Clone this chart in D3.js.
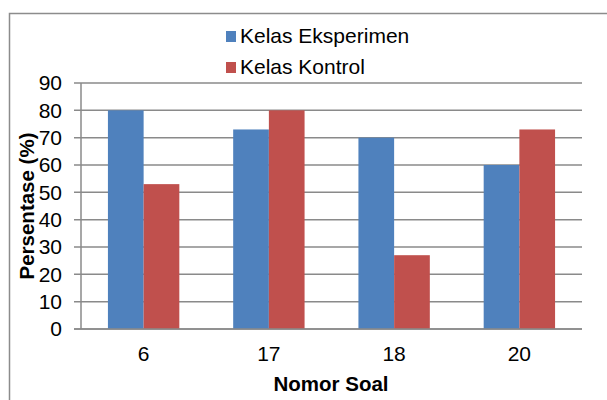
<!DOCTYPE html>
<html>
<head>
<meta charset="utf-8">
<script src="https://cdn.jsdelivr.net/npm/d3@7"></script>
<style>
  body { margin: 0; background: #fff; }
  svg { display: block; font-family: "Liberation Sans", Arial, sans-serif; }
</style>
</head>
<body>
<svg id="chart"></svg>
<script>
// Data
const categories = ["6", "17", "18", "20"];
const seriesNames = ["Kelas Eksperimen", "Kelas Kontrol"];
const eksperimen = [80, 73, 70, 60];
const kontrol = [53, 80, 27, 73];
const yTicks = [0, 10, 20, 30, 40, 50, 60, 70, 80, 90];

const colors = ["#4F81BD", "#C0504D"];

// Chart dimensions
const width = 607;
const height = 400;
const margin = { left: 81, right: 25, top: 83, bottom: 71 };

const svg = d3.select("#chart")
    .attr("width", width)
    .attr("height", height);

// Outer border
svg.append("rect")
    .attr("x", 9.5)
    .attr("y", 13.5)
    .attr("width", width + 10)
    .attr("height", height + 10)
    .attr("fill", "none")
    .attr("stroke", "#8c8c8c")
    .attr("stroke-width", 1.5);

// Scales
const xScale = d3.scaleBand()
    .domain(categories)
    .range([margin.left, width - margin.right])
    .paddingInner(0.43)
    .paddingOuter(0.215);

const xSub = d3.scaleBand()
    .domain(seriesNames)
    .range([0, xScale.bandwidth()]);

const yScale = d3.scaleLinear()
    .domain([0, 90])
    .range([height - margin.bottom, margin.top]);

// Gridlines
svg.append("g")
    .selectAll("line")
    .data(yTicks)
    .enter()
    .append("line")
    .attr("x1", margin.left - 7)
    .attr("x2", width - margin.right)
    .attr("y1", d => yScale(d))
    .attr("y2", d => yScale(d))
    .attr("stroke", "#8a8a8a")
    .attr("stroke-width", 1.5);

// Y axis line
svg.append("line")
    .attr("x1", margin.left)
    .attr("x2", margin.left)
    .attr("y1", yScale(90))
    .attr("y2", yScale(0))
    .attr("stroke", "#8a8a8a")
    .attr("stroke-width", 1.5);

// Y tick labels
svg.append("g")
    .selectAll("text")
    .data(yTicks)
    .enter()
    .append("text")
    .attr("x", 62)
    .attr("y", d => yScale(d))
    .attr("dy", "0.35em")
    .attr("text-anchor", "end")
    .attr("font-size", 21)
    .attr("fill", "#000")
    .text(d => d);

// Bars
const rows = categories.map((c, i) => ({ cat: c, values: [eksperimen[i], kontrol[i]] }));

const groups = svg.append("g")
    .selectAll("g")
    .data(rows)
    .enter()
    .append("g")
    .attr("transform", d => `translate(${xScale(d.cat)},0)`);

groups.selectAll("rect")
    .data(d => d.values.map((v, j) => ({ name: seriesNames[j], value: v, j })))
    .enter()
    .append("rect")
    .attr("x", d => xSub(d.name))
    .attr("y", d => yScale(d.value))
    .attr("width", xSub.bandwidth())
    .attr("height", d => yScale(0) - yScale(d.value))
    .attr("fill", d => colors[d.j]);

// X axis line on top of bars
svg.append("line")
    .attr("x1", margin.left - 7)
    .attr("x2", width - margin.right)
    .attr("y1", yScale(0))
    .attr("y2", yScale(0))
    .attr("stroke", "#8a8a8a")
    .attr("stroke-width", 1.5);

// X labels
svg.append("g")
    .selectAll("text")
    .data(categories)
    .enter()
    .append("text")
    .attr("x", d => xScale(d) + xScale.bandwidth() / 2)
    .attr("y", 361)
    .attr("text-anchor", "middle")
    .attr("font-size", 21)
    .attr("fill", "#000")
    .text(d => d);

// Axis titles
svg.append("text")
    .attr("x", 331)
    .attr("y", 391)
    .attr("text-anchor", "middle")
    .attr("font-size", 20.5)
    .attr("font-weight", "bold")
    .text("Nomor Soal");

svg.append("text")
    .attr("transform", `translate(34,${(yScale(0) + yScale(90)) / 2}) rotate(-90)`)
    .attr("text-anchor", "middle")
    .attr("font-size", 20.5)
    .attr("font-weight", "bold")
    .text("Persentase (%)");

// Legend
const legend = svg.append("g")
    .attr("transform", "translate(226,31)");

const legendItems = legend.selectAll("g")
    .data(seriesNames)
    .enter()
    .append("g")
    .attr("transform", (d, i) => `translate(0,${i * 31})`);

legendItems.append("rect")
    .attr("width", 10)
    .attr("height", 11)
    .attr("fill", (d, i) => colors[i]);

legendItems.append("text")
    .attr("x", 14)
    .attr("y", 12)
    .attr("font-size", 21)
    .attr("fill", "#000")
    .text(d => d);
</script>
</body>
</html>
